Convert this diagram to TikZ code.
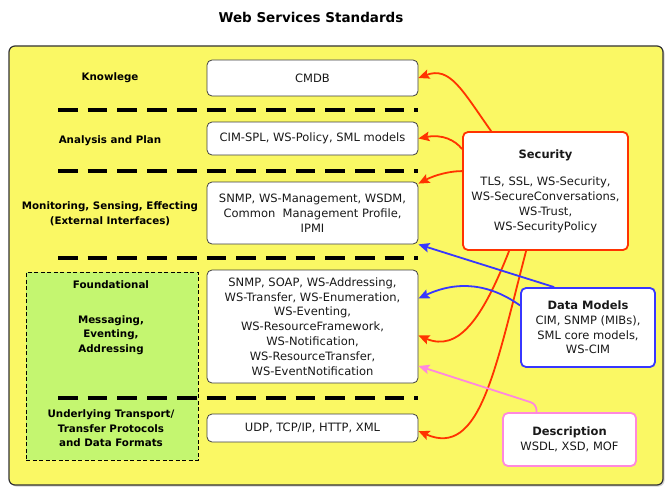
\documentclass[tikz,border=0pt]{standalone}
\usepackage{fontspec}
\setmainfont{DejaVu Sans}
\usetikzlibrary{arrows.meta,calc,shadows}
\definecolor{ybg}{RGB}{250,248,100}
\definecolor{gbg}{RGB}{196,246,112}
\definecolor{sred}{RGB}{255,51,0}
\definecolor{dblue}{RGB}{55,55,255}
\definecolor{dpink}{RGB}{255,136,221}
\definecolor{txt}{RGB}{25,25,25}
\begin{document}
\begin{tikzpicture}[x=1pt,y=-1pt,
  boxtxt/.style={font=\fontsize{11.5}{14.8}\selectfont, text=txt},
  wbox/.style={boxtxt, draw=black!75, fill=white, rounded corners=5pt, line width=0.8pt,
    align=center, inner sep=0pt},
  lbl/.style={font=\bfseries\fontsize{10.3}{14.6}\selectfont, text=black, align=center},
  divider/.style={line width=4pt, dash pattern=on 19.7pt off 10pt},
  sbox/.style={wbox, line width=1.8pt},
  arr/.style={line width=1.8pt, -{Stealth[length=11pt,width=9.5pt,inset=2pt]}},
]
\useasboundingbox (0,0) rectangle (667,487);
\fill[white] (0,0) rectangle (667,487);

\node[font=\bfseries\fontsize{13.5}{16}\selectfont] (title) at (311,17) {Web Services Standards};

% yellow frame
\node[draw=black!80, line width=1.2pt, fill=ybg, rounded corners=6pt,
  minimum width=654pt, minimum height=439pt, inner sep=0pt,
  drop shadow={opacity=0.35, shadow xshift=1.5pt, shadow yshift=-1.5pt}] (frame) at (336,265.5) {};

% green foundational zone
\node[draw=black, dash pattern=on 4pt off 2.5pt, line width=0.9pt, fill=gbg, minimum width=172pt, minimum height=188pt,
  inner sep=0pt] (green) at (112,366) {};

% dividers
\foreach \yy in {110,171,258,398} {
  \draw[divider] (58,\yy) -- (418,\yy);
}

% left labels
\node[lbl] (lknow) at (110,78) {Knowlege};
\node[lbl] (lana) at (110,141) {Analysis and Plan};
\node[lbl] (lmon) at (110,214) {Monitoring, Sensing, Effecting\\(External Interfaces)};
\node[lbl] (lfound) at (111,285) {Foundational};
\node[lbl] (lmsg) at (111,335) {Messaging,\\Eventing,\\Addressing};
\node[lbl] (lund) at (111,428.5) {Underlying Transport/\\Transfer Protocols\\and Data Formats};

% standards boxes
\node[wbox, minimum width=211pt, minimum height=36pt] (cmdb) at (312.5,78) {CMDB};
\node[wbox, minimum width=211pt, minimum height=33pt] (cim) at (312.5,138.5) {CIM-SPL, WS-Policy, SML models};
\node[wbox, minimum width=211pt, minimum height=62pt] (mon) at (312.5,213)
  {SNMP, WS-Management, WSDM,\\Common\ \ Management Profile,\\IPMI};
\node[wbox, minimum width=211pt, minimum height=113pt] (found) at (312.5,326.5)
  {SNMP, SOAP, WS-Addressing,\\WS-Transfer, WS-Enumeration,\\WS-Eventing,\\WS-ResourceFramework,\\WS-Notification,\\WS-ResourceTransfer,\\WS-EventNotification};
\node[wbox, minimum width=211pt, minimum height=28pt] (udp) at (312.5,428) {UDP, TCP/IP, HTTP, XML};

% side boxes
\node[sbox, draw=sred, minimum width=165pt, minimum height=118pt] (sec) at (545.5,191)
  {\textbf{Security}\\[13pt]TLS, SSL, WS-Security,\\WS-SecureConversations,\\WS-Trust,\\WS-SecurityPolicy};
\node[sbox, draw=dblue, minimum width=134pt, minimum height=79pt] (data) at (588,327.5)
  {\textbf{Data Models}\\CIM, SNMP (MIBs),\\SML core models,\\WS-CIM};
\node[sbox, draw=dpink, minimum width=133pt, minimum height=53pt] (desc) at (569.5,439.5)
  {\textbf{Description}\\WSDL, XSD, MOF};

% security arrows
\draw[arr, sred] ($(sec.north west)+(29,0)$) .. controls (462,90) and (450,66) .. (cmdb.east);
\draw[arr, sred] ($(sec.north west)+(0,18)$) .. controls (455,140) and (442,134) .. (cim.east);
\draw[arr, sred] ($(sec.north west)+(0,40)$) .. controls (450,171) and (435,175) .. ($(mon.north east)+(0,2)$);
\draw[arr, sred] ($(sec.south west)+(47,0)$) .. controls (482,320) and (458,352) .. ($(found.east)+(0,9)$);
\draw[arr, sred] ($(sec.south west)+(64,0)$) .. controls (495,370) and (480,458) .. ($(udp.east)+(0,3)$);

% data model arrows
\draw[arr, dblue] ($(data.north west)+(34,0)$) -- (mon.south east);
\draw[arr, dblue] ($(data.west)+(0,-22)$) .. controls (490,284) and (458,280) .. ($(found.east)+(0,-28)$);

% description arrow
\draw[arr, dpink, rounded corners=6pt] ($(desc.north)+(-33,0)$) -- ++(0,-8) -- ($(found.east)+(0,39.5)$);
\end{tikzpicture}
\end{document}
